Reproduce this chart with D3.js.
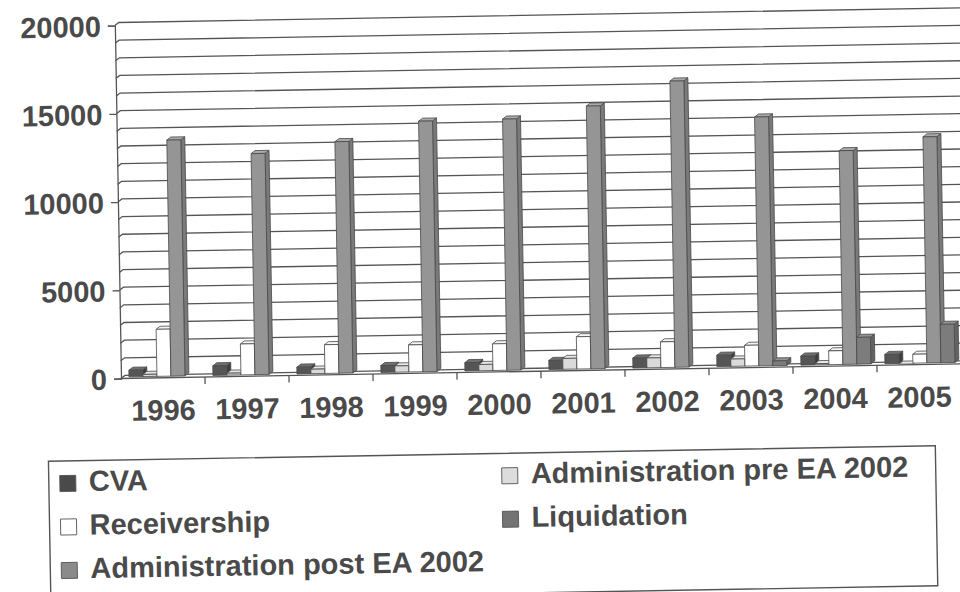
<!DOCTYPE html>
<html><head><meta charset="utf-8">
<script src="https://cdn.jsdelivr.net/npm/d3@7"></script>
<style>body{margin:0;background:#fff}svg{display:block}</style>
</head><body>
<svg id="chart" width="960" height="592"></svg>
<script>
// ---- data ----
const years = ["1996","1997","1998","1999","2000","2001","2002","2003","2004","2005"];
const seriesNames = ["CVA","Administration pre EA 2002","Receivership","Liquidation","Administration post EA 2002"];
const cva          = [459, 629, 470, 475, 557, 597, 651, 726, 597, 604];
const adminPre     = [210, 196, 338, 440, 438, 698, 643, 497, 153, 42];
const receivership = [2750, 1837, 1713, 1618, 1595, 1914, 1541, 1261, 864, 590];
const liquidation  = [13461, 12610, 13203, 14280, 14317, 14972, 16305, 14184, 12192, 12893];
const adminPost    = [0, 0, 0, 0, 0, 0, 0, 350, 1602, 2257];
const yTickValues  = [0, 5000, 10000, 15000, 20000];
const gridValues   = d3.range(0, 20001, 1000);

const seriesValues = [cva, adminPre, receivership, liquidation, adminPost];
const seriesColors = [
  {front:"#555555", side:"#3e3e3e", top:"#707070"},
  {front:"#dadada", side:"#bdbdbd", top:"#e8e8e8"},
  {front:"#ffffff", side:"#e6e6e6", top:"#f4f4f4"},
  {front:"#959595", side:"#7a7a7a", top:"#aaaaaa"},
  {front:"#7c7c7c", side:"#646464", top:"#939393"}
];
const legendFill = ["#4a4a4a","#dcdcdc","#ffffff","#747474","#8a8a8a"];

// ---- layout ----
const svg = d3.select("#chart");
const root = svg.append("g").attr("transform","rotate(-1,121,378)");
const font = "'Liberation Sans', Arial, sans-serif";
const textCol = "#4a4a4a";
const lineCol = "#555";
const DX = 4, DY = 3;

const x0 = d3.scaleBand().domain(years).range([122, 962]).paddingInner(0.167).paddingOuter(0.083);
const x1 = d3.scaleBand().domain(seriesNames).range([0, x0.bandwidth()]);
const y = d3.scaleLinear().domain([0, 20000]).range([378.5, 25.5]);

// back wall + side wall gridlines
root.append("g").selectAll("path").data(gridValues).join("path")
  .attr("d", v => `M121,${y(v)}L${121+DX},${y(v)-DY}L985,${y(v)-DY}`)
  .attr("fill","none").attr("stroke",lineCol).attr("stroke-width",1.3);

// y axis
const yAxis = root.append("g").attr("transform","translate(121,0)")
  .call(d3.axisLeft(y).tickValues(yTickValues).tickSize(7).tickPadding(7).tickFormat(d3.format("d")));
yAxis.select(".domain").attr("stroke",lineCol).attr("stroke-width",1.3);
yAxis.selectAll(".tick line").attr("stroke",lineCol).attr("stroke-width",1.3);
yAxis.selectAll("text").attr("font-family",font).attr("font-size",29).attr("font-weight","bold")
  .attr("fill",textCol).attr("dy","0.36em");

// floor front edge + category ticks
root.append("line").attr("x1",121).attr("x2",985).attr("y1",y(0)).attr("y2",y(0))
  .attr("stroke",lineCol).attr("stroke-width",1.3);
root.append("g").selectAll("line").data(years.slice(1)).join("line")
  .attr("x1", d => x0(d) - x0.step()*x0.paddingInner()/2 - 1)
  .attr("x2", d => x0(d) - x0.step()*x0.paddingInner()/2 - 1)
  .attr("y1", y(0)).attr("y2", y(0)+7)
  .attr("stroke",lineCol).attr("stroke-width",1.3);

// x labels
root.append("g").selectAll("text").data(years).join("text")
  .attr("x", d => x0(d) + x0.bandwidth()/2 - 1)
  .attr("y", 421)
  .attr("text-anchor","middle")
  .attr("font-family",font).attr("font-size",29).attr("font-weight","bold").attr("fill",textCol)
  .text(d => d);

// bars (3D prisms)
const bars = root.append("g");
years.forEach((yr, i) => {
  seriesNames.forEach((s, j) => {
    const v = seriesValues[j][i];
    if (!v) return;
    const xl = x0(yr) + x1(s), w = x1.bandwidth();
    const yt = y(v), yb = y(0) - 1.5;
    const c = seriesColors[j];
    const g = bars.append("g").attr("stroke","#4a4a4a").attr("stroke-width",0.8).attr("stroke-linejoin","round");
    g.append("path").attr("fill",c.side)
      .attr("d",`M${xl+w},${yt}L${xl+w+DX},${yt-DY}L${xl+w+DX},${yb-DY}L${xl+w},${yb}Z`);
    g.append("path").attr("fill",c.top)
      .attr("d",`M${xl},${yt}L${xl+DX},${yt-DY}L${xl+w+DX},${yt-DY}L${xl+w},${yt}Z`);
    g.append("rect").attr("fill",c.front)
      .attr("x",xl).attr("y",yt).attr("width",w).attr("height",Math.max(0,yb-yt));
  });
});

// legend
const lg = root.append("g");
lg.append("rect").attr("x",47).attr("y",460).attr("width",887).attr("height",140)
  .attr("fill","none").attr("stroke",lineCol).attr("stroke-width",1.4);
const legendPos = [
  {x:58, y:490.5}, {x:500, y:490.5},
  {x:58, y:534},   {x:500, y:534},
  {x:58, y:577.5}
];
seriesNames.forEach((s, j) => {
  const p = legendPos[j];
  lg.append("rect").attr("x",p.x).attr("y",p.y-16).attr("width",16).attr("height",16)
    .attr("fill",legendFill[j]).attr("stroke","#555").attr("stroke-width",0.9);
  lg.append("text").attr("x",p.x+29).attr("y",p.y)
    .attr("font-family",font).attr("font-size",29).attr("font-weight","bold").attr("fill",textCol)
    .text(s);
});
</script>
</body></html>
